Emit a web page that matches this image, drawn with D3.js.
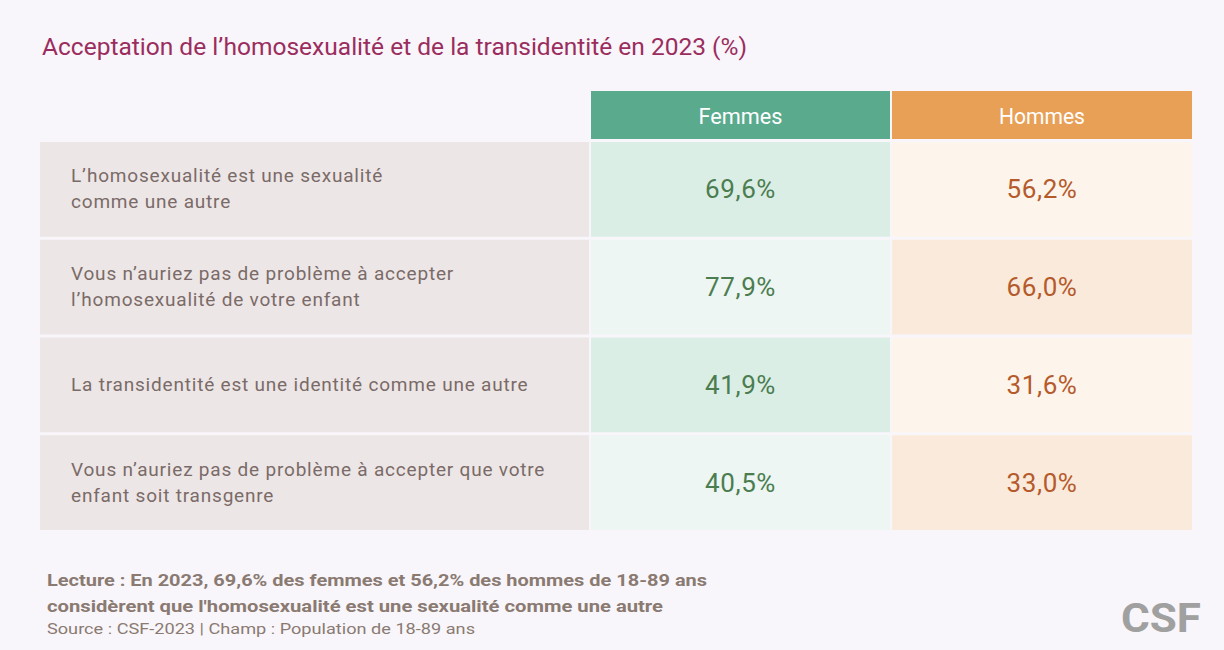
<!DOCTYPE html>
<html>
<head>
<meta charset="utf-8">
<script src="https://cdn.jsdelivr.net/npm/d3@7"></script>
<style>
  body { margin: 0; background: #f8f6fa; }
  svg { display: block; font-family: Roboto, "Noto Sans", sans-serif; }
</style>
</head>
<body>
<svg id="chart" width="1224" height="650"></svg>
<script>
const questions = [
  ["L\u2019homosexualité est une sexualité", "comme une autre"],
  ["Vous n\u2019auriez pas de problème à accepter", "l\u2019homosexualité de votre enfant"],
  ["La transidentité est une identité comme une autre"],
  ["Vous n\u2019auriez pas de problème à accepter que votre", "enfant soit transgenre"]
];
const groups = ["Femmes", "Hommes"];
const femmes = [69.6, 77.9, 41.9, 40.5];
const hommes = [56.2, 66.0, 31.6, 33.0];

const svg = d3.select("#chart");

const fmt = v => d3.format(".1f")(v).replace(".", ",") + "%";

// titre
svg.append("text")
  .attr("x", 42).attr("y", 55)
  .attr("fill", "#9b2d5e")
  .style("font-size", "24px")
  .attr("textLength", 705)
  .attr("lengthAdjust", "spacingAndGlyphs")
  .text("Acceptation de l\u2019homosexualité et de la transidentité en 2023 (%)");

// colonnes et lignes
const colX = { label: 40, Femmes: 591, Hommes: 892 };
const colW = { label: 549, Femmes: 299, Hommes: 300 };

const y = d3.scaleBand().domain(d3.range(questions.length)).range([142, 530]).paddingInner(0.03);

const headColor = { Femmes: "#5aaa8e", Hommes: "#e8a057" };
const cellColor = {
  Femmes: ["#dbeee6", "#edf6f2"],
  Hommes: ["#fdf5ec", "#faeadc"]
};
const valColor = { Femmes: "#4b7d50", Hommes: "#b55a2b" };
const values = { Femmes: femmes, Hommes: hommes };

// en-têtes
const head = svg.append("g");
groups.forEach(g => {
  head.append("rect")
    .attr("x", colX[g]).attr("y", 91)
    .attr("width", colW[g]).attr("height", 48)
    .attr("fill", headColor[g]);
  head.append("text")
    .attr("x", colX[g] + colW[g] / 2).attr("y", 124)
    .attr("text-anchor", "middle")
    .attr("fill", "#fff")
    .style("font-size", "22px")
    .attr("textLength", g === "Femmes" ? 84 : 86)
    .attr("lengthAdjust", "spacingAndGlyphs")
    .text(g);
});

// lignes
const rows = svg.selectAll("g.row")
  .data(questions)
  .join("g")
  .attr("class", "row")
  .attr("transform", (d, i) => `translate(0,${y(i)})`);

rows.append("rect")
  .attr("x", colX.label).attr("width", colW.label)
  .attr("height", y.bandwidth())
  .attr("fill", "#ede6e6");

rows.append("text")
  .attr("x", 71)
  .attr("fill", "#7a6b68")
  .style("font-size", "19px")
  .style("letter-spacing", "0.8px")
  .each(function (d) {
    const t = d3.select(this);
    const h = y.bandwidth();
    const lh = 26;
    const start = h / 2 - (d.length - 1) * lh / 2 + 6;
    d.forEach((line, k) => {
      t.append("tspan").attr("x", 71).attr("y", start + k * lh).text(line);
    });
  });

groups.forEach(g => {
  rows.append("rect")
    .attr("x", colX[g]).attr("width", colW[g])
    .attr("height", y.bandwidth())
    .attr("fill", (d, i) => cellColor[g][i % 2]);
  rows.append("text")
    .attr("x", colX[g] + colW[g] / 2)
    .attr("y", y.bandwidth() / 2 + 9)
    .attr("text-anchor", "middle")
    .attr("fill", valColor[g])
    .style("font-size", "26px")
    .style("letter-spacing", "0.6px")
    .text((d, i) => fmt(values[g][i]));
});

// notes
const foot = svg.append("g").attr("fill", "#8a7a72");
foot.append("text")
  .attr("x", 47).attr("y", 586)
  .style("font-size", "17px").style("font-weight", "bold")
  .attr("textLength", 660).attr("lengthAdjust", "spacingAndGlyphs")
  .text("Lecture : En 2023,  69,6% des femmes et 56,2% des hommes de 18-89 ans");
foot.append("text")
  .attr("x", 47).attr("y", 612)
  .style("font-size", "17px").style("font-weight", "bold")
  .attr("textLength", 616).attr("lengthAdjust", "spacingAndGlyphs")
  .text("considèrent que l'homosexualité est une sexualité comme une autre");
foot.append("text")
  .attr("x", 47).attr("y", 634)
  .style("font-size", "15px")
  .attr("textLength", 428).attr("lengthAdjust", "spacingAndGlyphs")
  .text("Source :  CSF-2023 | Champ : Population de 18-89 ans");

svg.append("text")
  .attr("x", 1201).attr("y", 632)
  .attr("text-anchor", "end")
  .attr("fill", "#a0a0a0")
  .style("font-size", "40px").style("font-weight", "bold")
  .attr("textLength", 80).attr("lengthAdjust", "spacingAndGlyphs")
  .text("CSF");
</script>
</body>
</html>
